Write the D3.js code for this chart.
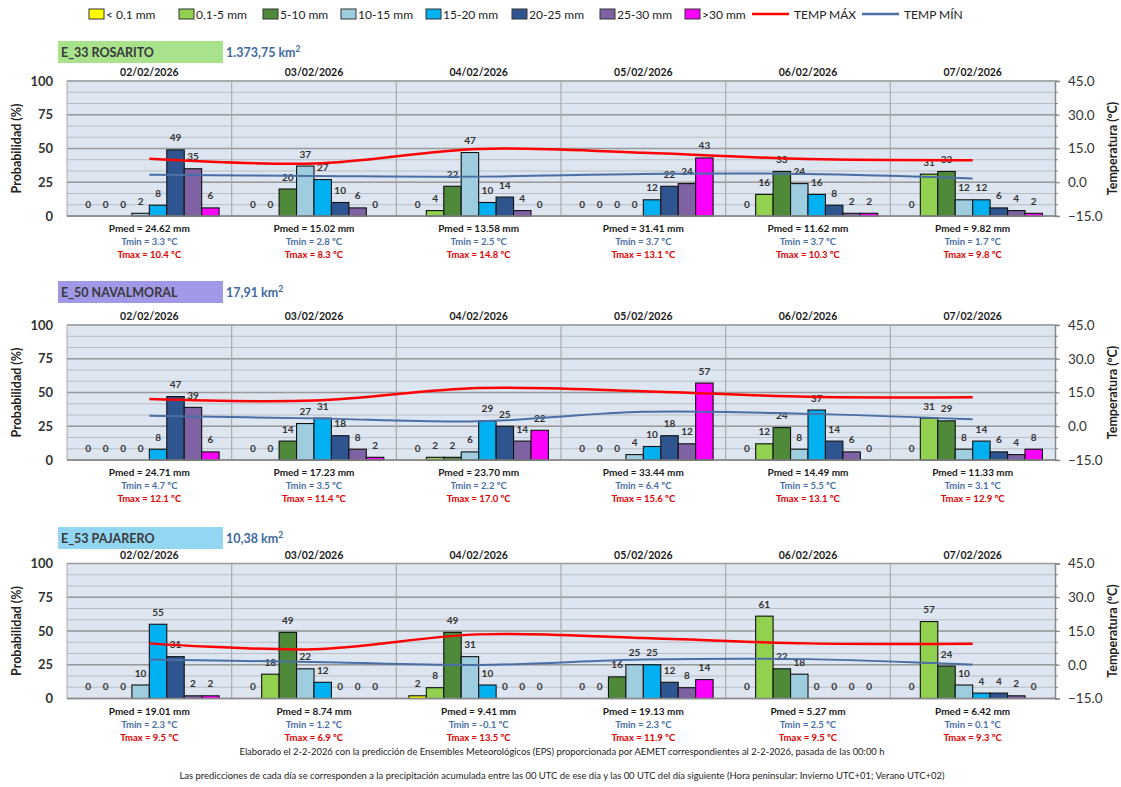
<!DOCTYPE html>
<html>
<head>
<meta charset="utf-8">
<script src="https://cdn.jsdelivr.net/npm/d3@7/dist/d3.min.js"></script>
<style>
  html, body { margin: 0; padding: 0; background: #ffffff; }
  svg { display: block; font-family: Lato, "Open Sans", sans-serif; }
</style>
</head>
<body>
<svg id="chart" width="1121" height="787"></svg>
<script>
// Forecast days
const days = ["02/02/2026", "03/02/2026", "04/02/2026", "05/02/2026", "06/02/2026", "07/02/2026"];

// Precipitation classes and their colours
const classes = ["< 0,1 mm", "0,1-5 mm", "5-10 mm", "10-15 mm", "15-20 mm", "20-25 mm", "25-30 mm", ">30 mm"];
const classColors = ["#ffff00", "#92d050", "#4e8a3a", "#9fcde0", "#00b0f0", "#2e5590", "#7e62a3", "#ff00ff"];

// Basins
const basinNames = ["E_33 ROSARITO", "E_50 NAVALMORAL", "E_53 PAJARERO"];
const basinAreas = ["1.373,75", "17,91", "10,38"];
const basinColors = ["#a8e28c", "#a199e8", "#92d6f2"];

// Probability (%) of each precipitation class, per day
const probRosarito = [
  [0, 0, 0, 2, 8, 49, 35, 6],
  [0, 0, 20, 37, 27, 10, 6, 0],
  [0, 4, 22, 47, 10, 14, 4, 0],
  [0, 0, 0, 0, 12, 22, 24, 43],
  [0, 16, 33, 24, 16, 8, 2, 2],
  [0, 31, 33, 12, 12, 6, 4, 2]
];
const probNavalmoral = [
  [0, 0, 0, 0, 8, 47, 39, 6],
  [0, 0, 14, 27, 31, 18, 8, 2],
  [0, 2, 2, 6, 29, 25, 14, 22],
  [0, 0, 0, 4, 10, 18, 12, 57],
  [0, 12, 24, 8, 37, 14, 6, 0],
  [0, 31, 29, 8, 14, 6, 4, 8]
];
const probPajarero = [
  [0, 0, 0, 10, 55, 31, 2, 2],
  [0, 18, 49, 22, 12, 0, 0, 0],
  [2, 8, 49, 31, 10, 0, 0, 0],
  [0, 0, 16, 25, 25, 12, 8, 14],
  [0, 61, 22, 18, 0, 0, 0, 0],
  [0, 57, 24, 10, 4, 4, 2, 0]
];

// Mean precipitation (mm) and temperatures (ºC), per day
const pmedRosarito = [24.62, 15.02, 13.58, 31.41, 11.62, 9.82];
const tminRosarito = [3.3, 2.8, 2.5, 3.7, 3.7, 1.7];
const tmaxRosarito = [10.4, 8.3, 14.8, 13.1, 10.3, 9.8];

const pmedNavalmoral = [24.71, 17.23, 23.70, 33.44, 14.49, 11.33];
const tminNavalmoral = [4.7, 3.5, 2.2, 6.4, 5.5, 3.1];
const tmaxNavalmoral = [12.1, 11.4, 17.0, 15.6, 13.1, 12.9];

const pmedPajarero = [19.01, 8.74, 9.41, 19.13, 5.27, 6.42];
const tminPajarero = [2.3, 1.2, -0.1, 2.3, 2.5, 0.1];
const tmaxPajarero = [9.5, 6.9, 13.5, 11.9, 9.5, 9.3];

// Axis ticks
const probTicks = [0, 25, 50, 75, 100];
const tempTicks = [-15, 0, 15, 30, 45];
const tempMinorTicks = d3.range(-15, 46, 5);

const footerLines = [
  "Elaborado el  2-2-2026 con la predicción de Ensembles Meteorológicos (EPS) proporcionada por AEMET correspondientes al 2-2-2026, pasada de las 00:00 h",
  "Las predicciones de cada día se corresponden a la precipitación acumulada entre las 00 UTC de ese día y las 00 UTC del día siguiente (Hora peninsular: Invierno UTC+01; Verano UTC+02)"
];

const panels = [
  { prob: probRosarito, pmed: pmedRosarito, tmin: tminRosarito, tmax: tmaxRosarito },
  { prob: probNavalmoral, pmed: pmedNavalmoral, tmin: tminNavalmoral, tmax: tmaxNavalmoral },
  { prob: probPajarero, pmed: pmedPajarero, tmin: tminPajarero, tmax: tmaxPajarero }
].map((p, i) => ({ ...p, name: basinNames[i], area: basinAreas[i], color: basinColors[i] }));

// Layout
const svg = d3.select("#chart");
const plotLeft = 67, plotRight = 1055, plotH = 135;
const plotTops = [81, 325, 563.5];
const boxTops = [41, 281, 527];
const tMax = "#ff0000", tMin = "#4a6fa5";

const x = d3.scaleBand().domain(days).range([plotLeft, plotRight]);
const xInner = d3.scaleBand().domain(classes).range([0, x.bandwidth()]).paddingInner(0).paddingOuter(0.72);

// Legend
const legend = svg.append("g").attr("class", "legend");
const legendSquares = [89, 179, 263, 341, 426, 512, 600, 685];
classes.forEach((c, i) => {
  legend.append("rect").attr("x", legendSquares[i]).attr("y", 9).attr("width", 15).attr("height", 10)
    .attr("fill", classColors[i]).attr("stroke", "#333").attr("stroke-width", 1);
  legend.append("text").attr("x", legendSquares[i] + 17).attr("y", 18.5)
    .attr("font-size", 12).attr("fill", "#222").text(c);
});
[[752, tMax, "TEMP MÁX"], [862, tMin, "TEMP MÍN"]].forEach(([lx, col, label]) => {
  legend.append("line").attr("x1", lx).attr("x2", lx + 37).attr("y1", 14).attr("y2", 14)
    .attr("stroke", col).attr("stroke-width", 2.5);
  legend.append("text").attr("x", lx + 42).attr("y", 18.5).attr("font-size", 12).attr("fill", "#222").text(label);
});

panels.forEach((p, pi) => {
  const top = plotTops[pi], bottom = top + plotH;
  const g = svg.append("g");
  const y = d3.scaleLinear().domain([0, 100]).range([bottom, top]);
  const yT = d3.scaleLinear().domain([-15, 45]).range([bottom, top]);

  // Basin header
  g.append("rect").attr("x", 58).attr("y", boxTops[pi]).attr("width", 165).attr("height", 22).attr("fill", p.color);
  g.append("text").attr("x", 61).attr("y", boxTops[pi] + 16).attr("font-size", 12.5).attr("font-weight", 700)
    .attr("fill", "#3a3a3a").text(p.name);
  const at = g.append("text").attr("x", 226).attr("y", boxTops[pi] + 16).attr("font-size", 12.5)
    .attr("font-weight", 700).attr("fill", "#3e6aa0");
  at.append("tspan").text(p.area + " km");
  at.append("tspan").attr("dy", -5).attr("font-size", 8.5).text("2");

  // Plot background
  g.append("rect").attr("x", plotLeft).attr("y", top).attr("width", plotRight - plotLeft).attr("height", plotH)
    .attr("fill", "#dce5f0");

  // Minor gridlines (5 ºC steps) and major gridlines
  g.selectAll(".minor").data(tempMinorTicks).join("line")
    .attr("x1", plotLeft).attr("x2", plotRight).attr("y1", d => yT(d)).attr("y2", d => yT(d))
    .attr("stroke", "#b9bec6").attr("stroke-width", 1);
  g.selectAll(".major").data(probTicks).join("line")
    .attr("x1", plotLeft).attr("x2", plotRight).attr("y1", d => y(d)).attr("y2", d => y(d))
    .attr("stroke", "#9a9a9a").attr("stroke-width", 1.5);

  // Day separators
  g.selectAll(".sep").data(days.slice(1)).join("line")
    .attr("x1", d => x(d)).attr("x2", d => x(d)).attr("y1", top).attr("y2", bottom)
    .attr("stroke", "#aaaaaa").attr("stroke-width", 1.2);
  g.append("line").attr("x1", plotLeft).attr("x2", plotLeft).attr("y1", top).attr("y2", bottom)
    .attr("stroke", "#aaaaaa").attr("stroke-width", 1);

  // Left axis
  const leftAxis = g.append("g").attr("transform", `translate(${plotLeft},0)`)
    .call(d3.axisLeft(y).tickValues(probTicks).tickSize(0).tickPadding(14));
  leftAxis.select(".domain").remove();
  leftAxis.selectAll("text").attr("font-size", 13).attr("font-weight", 700).attr("fill", "#333")
    .attr("font-family", "Lato, sans-serif");

  // Right axis
  const rightAxis = g.append("g").attr("transform", `translate(${plotRight},0)`)
    .call(d3.axisRight(yT).tickValues(tempTicks).tickSize(5).tickPadding(8).tickFormat(d3.format(".1f")));
  rightAxis.select(".domain").attr("stroke", "#888").attr("stroke-width", 1.5);
  rightAxis.selectAll(".tick line").attr("stroke", "#888");
  rightAxis.selectAll("text").attr("font-size", 13.5).attr("fill", "#333").attr("font-family", "Lato, sans-serif");
  g.selectAll(".rminor").data(tempMinorTicks).join("line")
    .attr("x1", plotRight).attr("x2", plotRight + 3).attr("y1", d => yT(d)).attr("y2", d => yT(d))
    .attr("stroke", "#888");

  // Axis titles
  g.append("text").attr("transform", `translate(21,${(top + bottom) / 2}) rotate(-90)`)
    .attr("text-anchor", "middle").attr("font-size", 12.5).attr("font-weight", 700).attr("fill", "#222")
    .text("Probabilidad (%)");
  g.append("text").attr("transform", `translate(1117,${(top + bottom) / 2}) rotate(-90)`)
    .attr("text-anchor", "middle").attr("font-size", 12.5).attr("font-weight", 700).attr("fill", "#222")
    .text("Temperatura (ºC)");

  // Bars and value labels per day
  days.forEach((day, di) => {
    const dg = g.append("g").attr("transform", `translate(${x(day)},0)`);
    const vals = p.prob[di].map((v, ci) => ({ v, c: classes[ci], col: classColors[ci] }));
    dg.selectAll("rect").data(vals.filter(d => d.v > 0)).join("rect")
      .attr("x", d => xInner(d.c)).attr("y", d => y(d.v))
      .attr("width", xInner.bandwidth()).attr("height", d => y(0) - y(d.v))
      .attr("fill", d => d.col).attr("stroke", "#111").attr("stroke-width", 1.1);
    dg.selectAll("text.val").data(vals).join("text").attr("class", "val")
      .attr("x", d => xInner(d.c) + xInner.bandwidth() / 2).attr("y", d => y(d.v) - 8.5)
      .attr("text-anchor", "middle").attr("font-size", 10).attr("font-weight", 700).attr("fill", "#333")
      .text(d => d.v);

    const cx = x(day) + x.bandwidth() / 2;
    g.append("text").attr("x", cx).attr("y", top - 5).attr("text-anchor", "middle")
      .attr("font-size", 10.5).attr("font-weight", 700).attr("fill", "#1a1a1a").text(day);
    g.append("text").attr("x", cx).attr("y", bottom + 16).attr("text-anchor", "middle")
      .attr("font-size", 10).attr("font-weight", 700).attr("fill", "#1a1a1a")
      .text(`Pmed = ${p.pmed[di].toFixed(2)} mm`);
    g.append("text").attr("x", cx).attr("y", bottom + 29).attr("text-anchor", "middle")
      .attr("font-size", 9.5).attr("font-weight", 700).attr("fill", "#4a6fa5")
      .text(`Tmin = ${p.tmin[di].toFixed(1)} ºC`);
    g.append("text").attr("x", cx).attr("y", bottom + 42).attr("text-anchor", "middle")
      .attr("font-size", 9.5).attr("font-weight", 700).attr("fill", "#e00000")
      .text(`Tmax = ${p.tmax[di].toFixed(1)} ºC`);
  });

  // Bottom axis line
  g.append("line").attr("x1", plotLeft).attr("x2", plotRight).attr("y1", bottom).attr("y2", bottom)
    .attr("stroke", "#8a8a8a").attr("stroke-width", 1.5);

  // Temperature lines
  const line = d3.line().x((d, i) => x(days[i]) + x.bandwidth() / 2).y(d => yT(d))
    .curve(d3.curveCardinal.tension(0));
  g.append("path").datum(p.tmin).attr("d", line).attr("fill", "none").attr("stroke", tMin).attr("stroke-width", 2);
  g.append("path").datum(p.tmax).attr("d", line).attr("fill", "none").attr("stroke", tMax).attr("stroke-width", 2.5);
});

// Footer notes
svg.append("text").attr("x", 562).attr("y", 755).attr("text-anchor", "middle").attr("font-size", 8.5)
  .attr("fill", "#222").attr("textLength", 645).attr("lengthAdjust", "spacingAndGlyphs").text(footerLines[0]);
svg.append("text").attr("x", 562).attr("y", 779).attr("text-anchor", "middle").attr("font-size", 8.5)
  .attr("fill", "#222").attr("textLength", 765).attr("lengthAdjust", "spacingAndGlyphs").text(footerLines[1]);
</script>
</body>
</html>
